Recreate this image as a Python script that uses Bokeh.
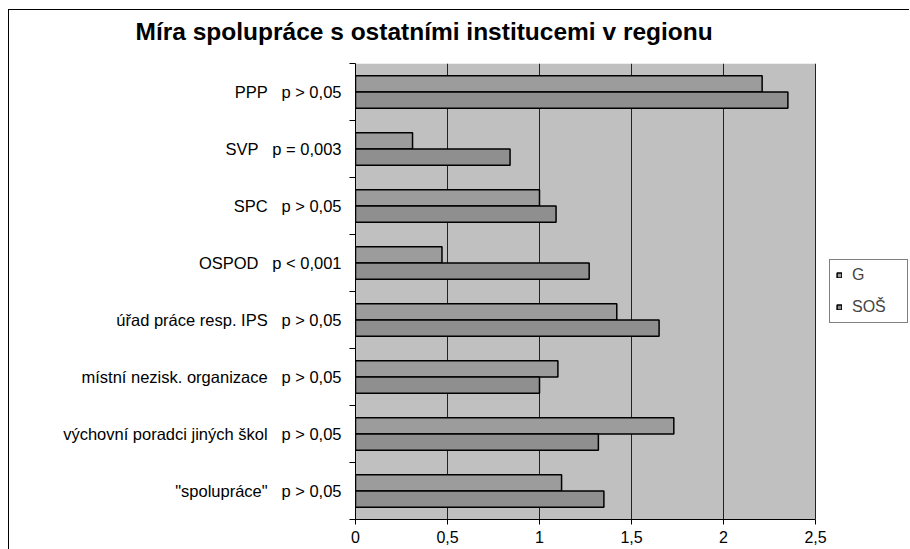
from bokeh.plotting import figure
from bokeh.models import (Range1d, FixedTicker, Legend, LegendItem, Title,
                          ColumnDataSource, BoxAnnotation)
from bokeh.embed import file_html
from bokeh.resources import INLINE

# ---- data ----
categories = [
    "PPP\u00a0\u00a0\u00a0p > 0,05",
    "SVP\u00a0\u00a0\u00a0p = 0,003",
    "SPC\u00a0\u00a0\u00a0p > 0,05",
    "OSPOD\u00a0\u00a0\u00a0p < 0,001",
    "úřad práce resp. IPS\u00a0\u00a0\u00a0p > 0,05",
    "místní nezisk. organizace\u00a0\u00a0\u00a0p > 0,05",
    "výchovní poradci jiných škol\u00a0\u00a0\u00a0p > 0,05",
    "\"spolupráce\"\u00a0\u00a0\u00a0p > 0,05",
]
values_G = [2.21, 0.31, 1.00, 0.47, 1.42, 1.10, 1.73, 1.12]
values_SOS = [2.35, 0.84, 1.09, 1.27, 1.65, 1.00, 1.32, 1.35]
x_ticks = [0, 0.5, 1, 1.5, 2, 2.5]
x_tick_labels = ["0", "0,5", "1", "1,5", "2", "2,5"]
x_max = 2.5
series_names = ["G", "SOŠ"]
title_text = "Míra spolupráce s ostatními institucemi v regionu"

FONT = "Liberation Sans"
n = len(categories)
centers = [n - i - 0.5 for i in range(n)]
bar_h = 0.285

src_G = ColumnDataSource(dict(y=[c + bar_h / 2 for c in centers], right=values_G))
src_S = ColumnDataSource(dict(y=[c - bar_h / 2 for c in centers], right=values_SOS))

# plot area is 460 px for 0..2.5; the frame is widened to the right
# so that the legend can sit beside the grey plot area
PLOT_W = 460
FRAME_W = 553
p = figure(frame_width=FRAME_W, frame_height=456,
           min_border_left=355, min_border_right=1,
           min_border_top=62, min_border_bottom=30,
           x_range=Range1d(0, x_max * FRAME_W / PLOT_W), y_range=Range1d(0, n),
           output_backend="svg", toolbar_location=None,
           background_fill_color=None, border_fill_color=None)
p.outline_line_color = None
p.styles = {"box-shadow": "inset 8px 0 0 0 white, inset 0 9px 0 0 white, "
                          "inset 9px 0 0 0 black, inset 0 10px 0 0 black"}

bg = BoxAnnotation(left=0, right=x_max, fill_color="#C0C0C0", fill_alpha=1,
                   line_color=None, level="image")
p.add_layout(bg)

rG = p.hbar(y="y", right="right", left=0, height=bar_h, source=src_G,
            fill_color="#9C9C9C", line_color="black", line_width=1.5)
rS = p.hbar(y="y", right="right", left=0, height=bar_h, source=src_S,
            fill_color="#8F8F8F", line_color="black", line_width=1.5)

# x axis
p.xaxis.ticker = FixedTicker(ticks=x_ticks)
p.xaxis.bounds = (0, x_max)
p.xaxis.major_label_overrides = {t: l for t, l in zip(x_ticks, x_tick_labels)}
p.xaxis.major_tick_in = 0
p.xaxis.major_tick_out = 5
p.xaxis.minor_tick_line_color = None
p.xaxis.axis_line_color = "black"
p.xaxis.major_tick_line_color = "black"
p.xaxis.major_label_text_font = FONT
p.xaxis.major_label_text_font_size = "16px"
p.xaxis.major_label_text_color = "black"
p.xaxis.major_label_standoff = 6

# y axis
p.yaxis.ticker = FixedTicker(ticks=centers, minor_ticks=list(range(n + 1)))
p.yaxis.major_label_overrides = {c: l for c, l in zip(centers, categories)}
p.yaxis.major_tick_line_color = None
p.yaxis.major_tick_in = 0
p.yaxis.major_tick_out = 0
p.yaxis.minor_tick_line_color = "black"
p.yaxis.minor_tick_in = 0
p.yaxis.minor_tick_out = 6
p.yaxis.axis_line_color = "black"
p.yaxis.major_label_text_font = FONT
p.yaxis.major_label_text_font_size = "16.5px"
p.yaxis.major_label_text_color = "black"
p.yaxis.major_label_standoff = 8

# grid
p.xgrid.ticker = FixedTicker(ticks=x_ticks)
p.xgrid.grid_line_color = "#222222"
p.xgrid.grid_line_width = 1
p.ygrid.grid_line_color = None

# title
p.title = Title(text=title_text, text_font=FONT, text_font_size="24.5px",
                text_font_style="bold", text_color="black", align="left",
                vertical_align="top", offset=-220, standoff=34)

legend = Legend(items=[LegendItem(label=series_names[0], renderers=[rG]),
                       LegendItem(label=series_names[1], renderers=[rS])],
                location=(474, 196), margin=0, padding=6, spacing=14,
                glyph_width=6, glyph_height=6, label_height=7,
                label_width=49, label_standoff=10,
                label_text_font=FONT, label_text_font_size="16px",
                border_line_color="black", border_line_width=1,
                background_fill_color="white", background_fill_alpha=1)
p.add_layout(legend, "center")

open("out.html", "w").write(file_html(p, INLINE))
